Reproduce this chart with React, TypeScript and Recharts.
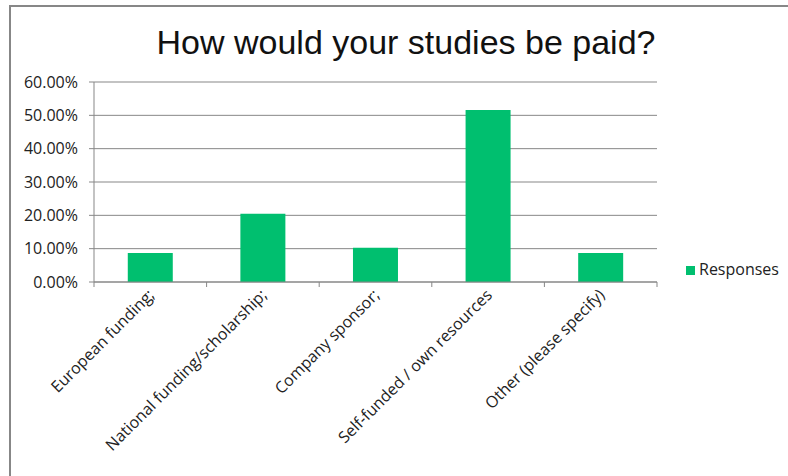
import React from "react";
import { Bar, BarChart, CartesianGrid, Legend, XAxis, YAxis } from "recharts";

// answers to "How would your studies be paid?" (share of responses, %)
const categories = [
  "European funding;",
  "National funding/scholarship;",
  "Company sponsor;",
  "Self-funded / own resources",
  "Other (please specify)",
];
const responses = [8.7, 20.5, 10.3, 51.6, 8.7];
const yTicks = [0, 10, 20, 30, 40, 50, 60];

const data = categories.map((name, i) => ({ name, Responses: responses[i] }));

const GRID = "#878787";
const FONT = "'Open Sans', sans-serif";

function CategoryTick(props: any) {
  const { x, y, payload, index } = props;
  const half = payload?.offset ?? 56.3;
  return (
    <g>
      <line x1={x - half} y1={y} x2={x - half} y2={y + 5} stroke={GRID} />
      {index === categories.length - 1 && (
        <line x1={x + half} y1={y} x2={x + half} y2={y + 5} stroke={GRID} />
      )}
      <text
        x={x + 5}
        y={y + 14}
        textAnchor="end"
        fill="#222"
        fontSize={16}
        fontFamily={FONT}
        transform={`rotate(-45, ${x + 5}, ${y + 14})`}
      >
        {payload.value}
      </text>
    </g>
  );
}

export default function App() {
  return (
    <div
      style={{
        position: "absolute",
        left: 0,
        top: 0,
        width: 788,
        height: 476,
        overflow: "hidden",
        background: "#fff",
      }}
    >
      <div
        style={{
          position: "absolute",
          left: 9,
          top: 5,
          width: 800,
          height: 500,
          borderLeft: `2px solid ${GRID}`,
          borderTop: `2px solid ${GRID}`,
        }}
      />
      <div
        style={{
          position: "absolute",
          left: 24,
          right: 0,
          top: 25,
          textAlign: "center",
          fontFamily: "'Liberation Sans', Arial, sans-serif",
          fontSize: 34,
          lineHeight: "34px",
          color: "#111",
        }}
      >
        How would your studies be paid?
      </div>
      <BarChart
        width={788}
        height={476}
        data={data}
        margin={{ top: 82, right: 131, bottom: 164, left: 0 }}
        barCategoryGap="30%"
        style={{ position: "absolute", left: 0, top: 0 }}
      >
        <CartesianGrid vertical={false} stroke={GRID} />
        <XAxis
          dataKey="name"
          interval={0}
          height={30}
          tickSize={0}
          tickMargin={0}
          axisLine={{ stroke: GRID }}
          tickLine={false}
          tick={<CategoryTick />}
        />
        <YAxis
          width={94}
          domain={[0, 60]}
          ticks={yTicks}
          tickSize={5}
          tickMargin={11}
          axisLine={{ stroke: GRID }}
          tickLine={{ stroke: GRID }}
          tickFormatter={(v: number) => `${v.toFixed(2)}%`}
          tick={{ fill: "#222", fontSize: 16, fontFamily: FONT }}
        />
        <Legend
          layout="horizontal"
          verticalAlign="middle"
          align="center"
          iconType="square"
          iconSize={9}
          wrapperStyle={{ left: 686, top: 258, width: 100, textAlign: "left", fontFamily: FONT, fontSize: 16 }}
          formatter={(value: string) => <span style={{ color: "#222" }}>{value}</span>}
        />
        <Bar dataKey="Responses" fill="#00BF6F" isAnimationActive={false} />
      </BarChart>
    </div>
  );
}
